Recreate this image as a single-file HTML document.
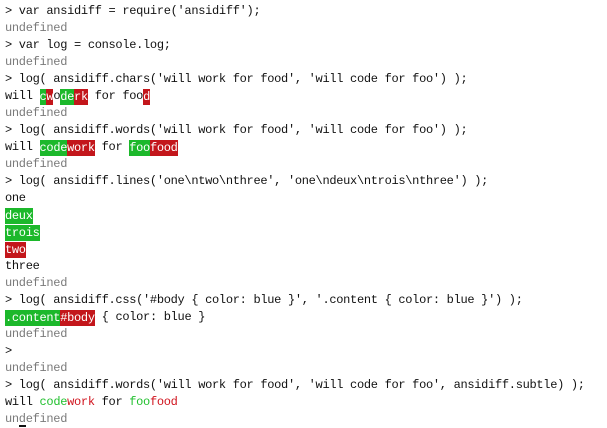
<!DOCTYPE html>
<html><head><meta charset="utf-8"><style>
html,body{margin:0;padding:0;background:#fff;width:607px;height:428px;overflow:hidden}
pre{margin:0;padding:3px 0 0 5px;font-family:"Liberation Mono","DejaVu Sans Mono",monospace;font-size:12px;letter-spacing:-0.3px;line-height:17px;color:#111}
.u{color:#7a7a7a}
.g{background:#1cb82b;color:#fff}
.r{background:#c3161b;color:#fff}
.sg{color:#22c02f}
.sr{color:#d0121c}
.b{display:inline-block;height:16px;line-height:16px;vertical-align:top;margin-top:0.5px}
.cur{position:absolute;left:19px;top:425px;width:7px;height:2px;background:#111}
</style></head><body>
<pre>&gt; var ansidiff = require('ansidiff');
<span class="u">undefined</span>
&gt; var log = console.log;
<span class="u">undefined</span>
&gt; log( ansidiff.chars('will work for food', 'will code for foo') );
will <span class="b g">c</span><span class="b r">w</span>o<span class="b g">de</span><span class="b r">rk</span> for foo<span class="b r">d</span>
<span class="u">undefined</span>
&gt; log( ansidiff.words('will work for food', 'will code for foo') );
will <span class="b g">code</span><span class="b r">work</span> for <span class="b g">foo</span><span class="b r">food</span>
<span class="u">undefined</span>
&gt; log( ansidiff.lines('one\ntwo\nthree', 'one\ndeux\ntrois\nthree') );
one
<span class="b g">deux</span>
<span class="b g">trois</span>
<span class="b r">two</span>
three
<span class="u">undefined</span>
&gt; log( ansidiff.css('#body { color: blue }', '.content { color: blue }') );
<span class="b g">.content</span><span class="b r">#body</span> { color: blue }
<span class="u">undefined</span>
&gt;
<span class="u">undefined</span>
&gt; log( ansidiff.words('will work for food', 'will code for foo', ansidiff.subtle) );
will <span class="sg">code</span><span class="sr">work</span> for <span class="sg">foo</span><span class="sr">food</span>
<span class="u">undefined</span></pre>
<div class="cur"></div>
</body></html>
